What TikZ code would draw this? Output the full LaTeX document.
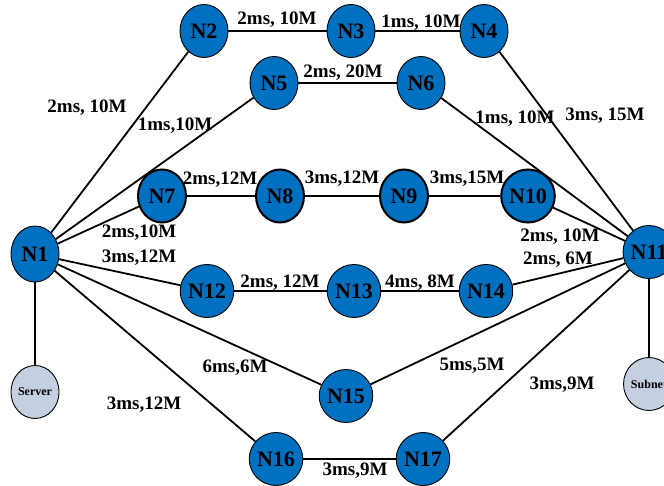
\documentclass[tikz,border=0pt]{standalone}
\usepackage{fontspec}
\setmainfont{Liberation Serif}
\usetikzlibrary{shapes.geometric}
\definecolor{nodeblue}{RGB}{0,112,192}
\definecolor{greyblue}{RGB}{196,208,226}
\begin{document}
\begin{tikzpicture}[x=1pt,y=-1pt,
  netnode/.style={ellipse,draw=black,line width=0.9pt,fill=nodeblue,minimum width=48pt,minimum height=53pt,inner sep=0pt,font=\fontsize{22}{24}\selectfont\bfseries},
  thicknode/.style={netnode,line width=2pt},
  endnode/.style={ellipse,draw=black,line width=0.9pt,fill=greyblue,minimum width=48pt,minimum height=53pt,inner sep=0pt,font=\fontsize{12}{14}\selectfont\bfseries},
  link/.style={line width=1.8pt,black},
  lbl/.style={inner sep=0pt,font=\fontsize{19}{21}\selectfont\bfseries}]
\useasboundingbox (0,0) rectangle (664,486);
% nodes
\node[netnode,minimum height=56pt] (N1) at (35,254) {N1};
\node[netnode] (N2) at (204,31) {N2};
\node[netnode] (N3) at (351,31) {N3};
\node[netnode] (N4) at (484,31) {N4};
\node[netnode] (N5) at (274,83) {N5};
\node[netnode] (N6) at (421,83) {N6};
\node[thicknode] (N7) at (162,196) {N7};
\node[thicknode] (N8) at (280,196) {N8};
\node[thicknode] (N9) at (404,196) {N9};
\node[thicknode] (N10) at (528,196) {N10};
\node[netnode] (N11) at (649,252) {N11};
\node[netnode] (N12) at (207,291) {N12};
\node[netnode] (N13) at (354,291) {N13};
\node[netnode] (N14) at (486,291) {N14};
\node[netnode] (N15) at (346,396) {N15};
\node[netnode] (N16) at (276,459) {N16};
\node[netnode] (N17) at (423,459) {N17};
\node[endnode] (S) at (35,392) {Server};
\node[endnode] (SN) at (649,384) {Subnet};
% links
\begin{scope}[on background layer/.style={}]
\end{scope}
\draw[link] (N1) -- (N2);
\draw[link] (N1) -- (N5);
\draw[link] (N1) -- (N7);
\draw[link] (N1) -- (N12);
\draw[link] (N1) -- (N15);
\draw[link] (N1) -- (N16);
\draw[link] (N1) -- (S);
\draw[link] (N2) -- (N3);
\draw[link] (N3) -- (N4);
\draw[link] (N4) -- (N11);
\draw[link] (N5) -- (N6);
\draw[link] (N6) -- (N11);
\draw[link] (N7) -- (N8);
\draw[link] (N8) -- (N9);
\draw[link] (N9) -- (N10);
\draw[link] (N10) -- (N11);
\draw[link] (N12) -- (N13);
\draw[link] (N13) -- (N14);
\draw[link] (N14) -- (N11);
\draw[link] (N15) -- (N11);
\draw[link] (N16) -- (N17);
\draw[link] (N17) -- (N11);
\draw[link] (N11) -- (SN);
% labels
\node[lbl] (l1a) at (87,108) {2ms, 10M};
\node[lbl] (l1b) at (175,126) {1ms,10M};
\node[lbl] (l1c) at (139,233) {2ms,10M};
\node[lbl] (l1d) at (139,258) {3ms,12M};
\node[lbl] (l1e) at (235,368) {6ms,6M};
\node[lbl] (l1f) at (144,405) {3ms,12M};
\node[lbl] (l23) at (277,20) {2ms, 10M};
\node[lbl] (l34) at (421,23) {1ms, 10M};
\node[lbl] (l56) at (343,73) {2ms, 20M};
\node[lbl] (l78) at (220,180) {2ms,12M};
\node[lbl] (l89) at (342,179) {3ms,12M};
\node[lbl] (l910) at (467,179) {3ms,15M};
\node[lbl] (l1213) at (280,283) {2ms, 12M};
\node[lbl] (l1314) at (420,283) {4ms, 8M};
\node[lbl] (l1617) at (355,471) {3ms,9M};
\node[lbl] (l411) at (605,116) {3ms, 15M};
\node[lbl] (l611) at (515,119) {1ms, 10M};
\node[lbl] (l1011) at (560,237) {2ms, 10M};
\node[lbl] (l1411) at (558,260) {2ms, 6M};
\node[lbl] (l1511) at (472,366) {5ms,5M};
\node[lbl] (l1711) at (562,385) {3ms,9M};
\end{tikzpicture}
\end{document}
